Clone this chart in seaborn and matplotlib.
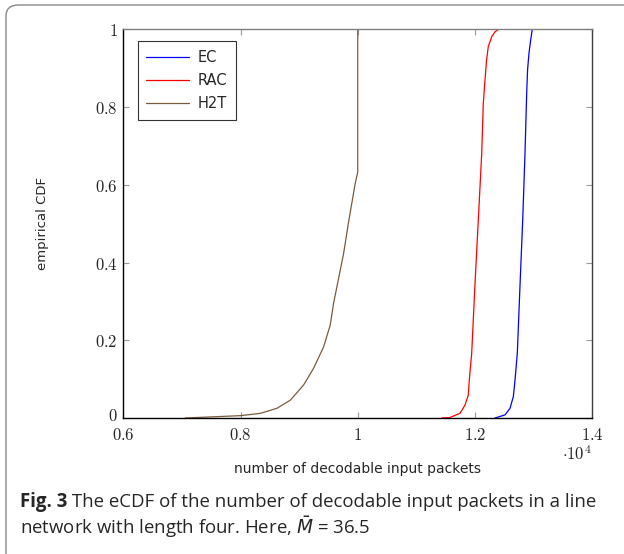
"""eCDF of decodable input packets in a line network (length four)."""

import matplotlib
matplotlib.use("Agg")
import matplotlib.pyplot as plt
from matplotlib.patches import FancyBboxPatch
from matplotlib.transforms import ScaledTranslation
import seaborn as sns
import pandas as pd

# Data (x in packets, y = empirical CDF)
ec_x = [12344, 12515, 12600, 12657, 12686, 12725, 12770, 12817, 12856, 12885,
        12900, 12924, 12953, 12980]
ec_y = [0.0, 0.008, 0.025, 0.055, 0.098, 0.167, 0.338, 0.51, 0.681, 0.836,
        0.896, 0.939, 0.973, 1.0]

rac_x = [11433, 11570, 11746, 11831, 11888, 11905, 11946, 12000, 12059, 12117,
         12144, 12173, 12200, 12229, 12287, 12344, 12400]
rac_y = [0.0, 0.001, 0.012, 0.033, 0.059, 0.098, 0.167, 0.338, 0.51, 0.681,
         0.81, 0.87, 0.921, 0.956, 0.981, 0.994, 1.0]

h2t_x = [7057, 7996, 8340, 8620, 8850, 9076, 9246, 9417, 9530, 9587, 9758, 9850,
         9957, 10000, 10000]
h2t_y = [0.0, 0.006, 0.012, 0.025, 0.046, 0.085, 0.128, 0.183, 0.239, 0.295, 0.423,
         0.51, 0.604, 0.633, 1.0]

series_names = ["EC", "RAC", "H2T"]
series_colors = {"EC": "#0000ff", "RAC": "#ff0000", "H2T": "#7a5c3d"}

x_ticks = [6000, 8000, 10000, 12000, 14000]
x_tick_labels = ["0.6", "0.8", "1", "1.2", "1.4"]
y_ticks = [0, 0.2, 0.4, 0.6, 0.8, 1.0]
y_tick_labels = ["0", "0.2", "0.4", "0.6", "0.8", "1"]

caption_bold = "Fig. 3"
caption_line1 = " The eCDF of the number of decodable input packets in a line"
caption_line2 = r"network with length four. Here, $\bar{M}$ = 36.5"

sns.set_style("ticks")
plt.rcParams["font.family"] = ["DejaVu Sans"]
plt.rcParams["mathtext.fontset"] = "cm"

df = pd.concat([
    pd.DataFrame({"packets": ec_x, "cdf": ec_y, "scheme": "EC"}),
    pd.DataFrame({"packets": rac_x, "cdf": rac_y, "scheme": "RAC"}),
    pd.DataFrame({"packets": h2t_x, "cdf": h2t_y, "scheme": "H2T"}),
], ignore_index=True)

fig = plt.figure(figsize=(6.24, 5.54), dpi=100)
ax = fig.add_axes([0.1979, 0.2455, 0.7508, 0.7013])

sns.lineplot(data=df, x="packets", y="cdf", hue="scheme", hue_order=series_names,
             palette=series_colors, estimator=None, sort=False, linewidth=0.9, ax=ax)

ax.set_xlim(6000, 14000)
ax.set_ylim(0, 1)
ax.set_xticks(x_ticks)
ax.set_xticklabels([f"${t}$" for t in x_tick_labels])
ax.set_yticks(y_ticks)
ax.set_yticklabels([f"${t}$" for t in y_tick_labels])
ax.tick_params(direction="in", length=4, width=0.8, color="#999999",
               top=True, right=True, labelsize=12)
ax.tick_params(axis="x", pad=5.5)
ax.tick_params(axis="y", pad=4)

# the "0" label sits just above the "0.6" label, nudge it up a little
zero_label = ax.get_yticklabels()[0]
zero_label.set_transform(zero_label.get_transform()
                         + ScaledTranslation(0, 3 / 72, fig.dpi_scale_trans))

# pgfplots-like frame
for side, col in [("left", "black"), ("bottom", "black"),
                  ("top", "#808080"), ("right", "#404040")]:
    ax.spines[side].set_color(col)
    ax.spines[side].set_linewidth(1.0)

ax.set_xlabel("number of decodable input packets", fontsize=10, labelpad=13)
ax.set_ylabel("empirical CDF", fontsize=9.5, labelpad=33)
ax.text(1.0, -0.095, r"$\cdot 10^4$", transform=ax.transAxes, ha="right", va="center",
        fontsize=12)

leg = ax.legend(loc="upper left", bbox_to_anchor=(0.03, 0.97), borderaxespad=0,
                fontsize=10.5, handlelength=2.9, handletextpad=0.6, labelspacing=0.55,
                frameon=True, fancybox=False, edgecolor="black", borderpad=0.6)
leg.get_frame().set_linewidth(0.8)

# caption below the plot: bold label, rest of line one, then line two
t1 = fig.text(20 / 624, 1 - 502 / 554, caption_bold, fontsize=13.4, fontweight="bold",
              family="Open Sans", va="center", ha="left")
ax.annotate(caption_line1, xy=(1, 0.5), xycoords=t1, va="center", ha="left",
            fontsize=13.4, family="Open Sans", annotation_clip=False)
fig.text(20 / 624, 1 - 527 / 554, caption_line2, fontsize=13.4, family="Open Sans",
         math_fontfamily="dejavusans", va="center", ha="left")

# rounded frame around the figure, open at right and bottom
frame = FancyBboxPatch((6 / 624, -0.02), 1.1, 1 - 5 / 554 + 0.02,
                       boxstyle="round,pad=0,rounding_size=0.02",
                       transform=fig.transFigure, fill=False,
                       edgecolor="#888888", linewidth=1.0, clip_on=False)
fig.add_artist(frame)

fig.savefig("out.png", dpi=100)
plt.close(fig)
